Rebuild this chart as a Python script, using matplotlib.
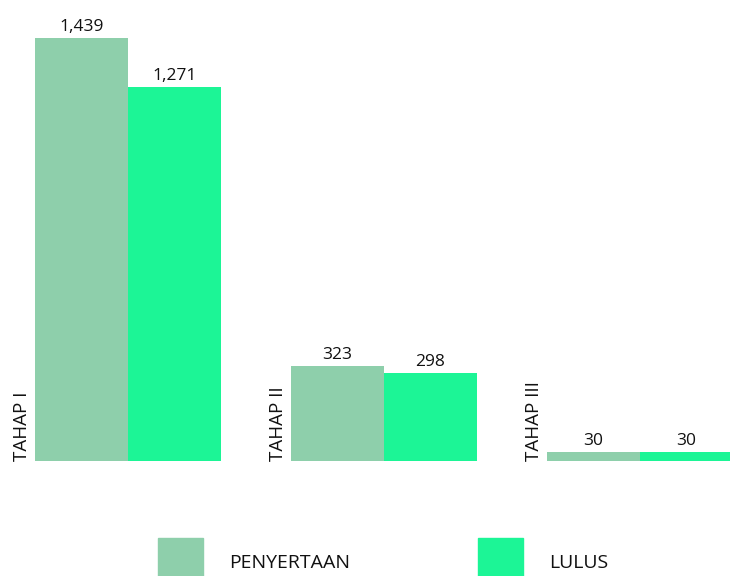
import numpy as np
import matplotlib
matplotlib.use("Agg")
import matplotlib.pyplot as plt
from matplotlib.patches import Rectangle

plt.rcParams['font.family'] = ['Open Sans', 'DejaVu Sans']

tahap = ["TAHAP I", "TAHAP II", "TAHAP III"]
penyertaan = [1439, 323, 30]
lulus = [1271, 298, 30]
series_names = ["PENYERTAAN", "LULUS"]
colors = ["#8ecfab", "#1cf596"]
text_color = "#111111"

W, H = 730, 576
fig = plt.figure(figsize=(W / 100, H / 100), dpi=100)
# axes spans full width, bottom at the bar baseline
ax = fig.add_axes([0, 115 / H, 1, (H - 115) / H])

group_px = 256.0
bar_w = 93 / group_px
x0 = 35 / group_px
ax.set_xlim(-x0, W / group_px - x0)
ax.set_ylim(0, 1439 * 461 / 423)

x = np.arange(len(tahap))
b1 = ax.bar(x, penyertaan, width=bar_w, align='edge', color=colors[0])
b2 = ax.bar(x + bar_w, lulus, width=bar_w, align='edge', color=colors[1])

for bars in (b1, b2):
    for r in bars:
        v = r.get_height()
        ax.annotate(f"{v:,}", (r.get_x() + r.get_width() / 2, v),
                    xytext=(0, 5), textcoords='offset points',
                    ha='center', va='baseline', fontsize=12.5, color=text_color)

for i, name in enumerate(tahap):
    ax.annotate(name, (x[i], 0), xytext=(-3, 0), textcoords='offset points',
                rotation=90, ha='right', va='bottom', fontsize=13.5,
                color=text_color)

ax.axis('off')

# legend along the bottom
for px, name, c in [(158, series_names[0], colors[0]), (478, series_names[1], colors[1])]:
    fig.patches.append(Rectangle((px / W, -2 / H), 45 / W, 40 / H,
                                 transform=fig.transFigure, color=c))
    fig.text((px + 71) / W, (H - 568) / H, name, ha='left', va='baseline',
             fontsize=14, color=text_color)

fig.savefig("out.png", dpi=100)
